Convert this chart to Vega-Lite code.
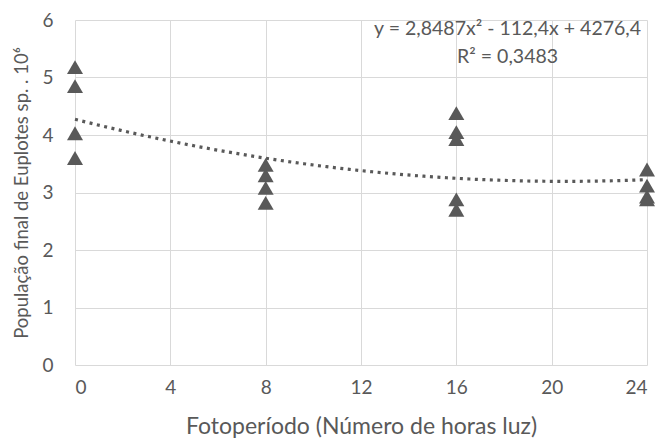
{
  "$schema": "https://vega.github.io/schema/vega-lite/v6.json",
  "autosize": "none",
  "width": 572,
  "height": 345,
  "padding": {"left": 75, "top": 20, "right": 14, "bottom": 79},
  "background": "white",
  "config": {
    "view": {"stroke": null},
    "font": "Lato",
    "axis": {"labelFont": "Lato", "titleFont": "Lato", "labelColor": "#595959", "titleColor": "#595959", "gridColor": "#d9d9d9", "gridWidth": 1, "domain": false, "ticks": false, "titleFontWeight": "normal"}
  },
  "data": {
    "values": [
      {"x": 0, "y": 5.18}, {"x": 0, "y": 4.85}, {"x": 0, "y": 4.03}, {"x": 0, "y": 3.6},
      {"x": 8, "y": 3.48}, {"x": 8, "y": 3.3}, {"x": 8, "y": 3.08}, {"x": 8, "y": 2.82},
      {"x": 16, "y": 4.38}, {"x": 16, "y": 4.05}, {"x": 16, "y": 3.93}, {"x": 16, "y": 2.88}, {"x": 16, "y": 2.7},
      {"x": 24, "y": 3.4}, {"x": 24, "y": 3.12}, {"x": 24, "y": 2.93}, {"x": 24, "y": 2.88}
    ]
  },
  "layer": [
    {
      "mark": {"type": "point", "shape": "triangle-up", "filled": true, "size": 256, "color": "#595959", "opacity": 1, "clip": false},
      "encoding": {
        "x": {"field": "x", "type": "quantitative", "scale": {"domain": [0, 24], "nice": false},
          "axis": {"values": [0, 4, 8, 12, 16, 20, 24], "format": "d", "title": "Fotoperíodo (Número de horas luz)", "labelFontSize": 19, "titleFontSize": 23, "labelPadding": 13, "titlePadding": 18}},
        "y": {"field": "y", "type": "quantitative", "scale": {"domain": [0, 6], "nice": false},
          "axis": {"values": [0, 1, 2, 3, 4, 5, 6], "format": "d", "title": "População final de Euplotes sp. . 10⁶", "labelFontSize": 19, "titleFontSize": 18.5, "labelPadding": 22, "titlePadding": 10}}
      }
    },
    {
      "transform": [{"regression": "y", "on": "x", "method": "poly", "order": 2, "extent": [0, 24]}],
      "mark": {"type": "line", "color": "#595959", "strokeWidth": 3.2, "strokeDash": [3, 4.5]},
      "encoding": {
        "x": {"field": "x", "type": "quantitative"},
        "y": {"field": "y", "type": "quantitative"}
      }
    },
    {
      "data": {"values": [{"label": "trend"}]},
      "mark": {"type": "text", "text": ["y = 2,8487x² - 112,4x + 4276,4", "R² = 0,3483"], "align": "center", "baseline": "middle", "fontSize": 19.5, "fontWeight": "normal", "color": "#595959", "lineHeight": 28, "font": "Lato"},
      "encoding": {
        "x": {"datum": 18.15, "type": "quantitative"},
        "y": {"datum": 5.84, "type": "quantitative"}
      }
    }
  ]
}
